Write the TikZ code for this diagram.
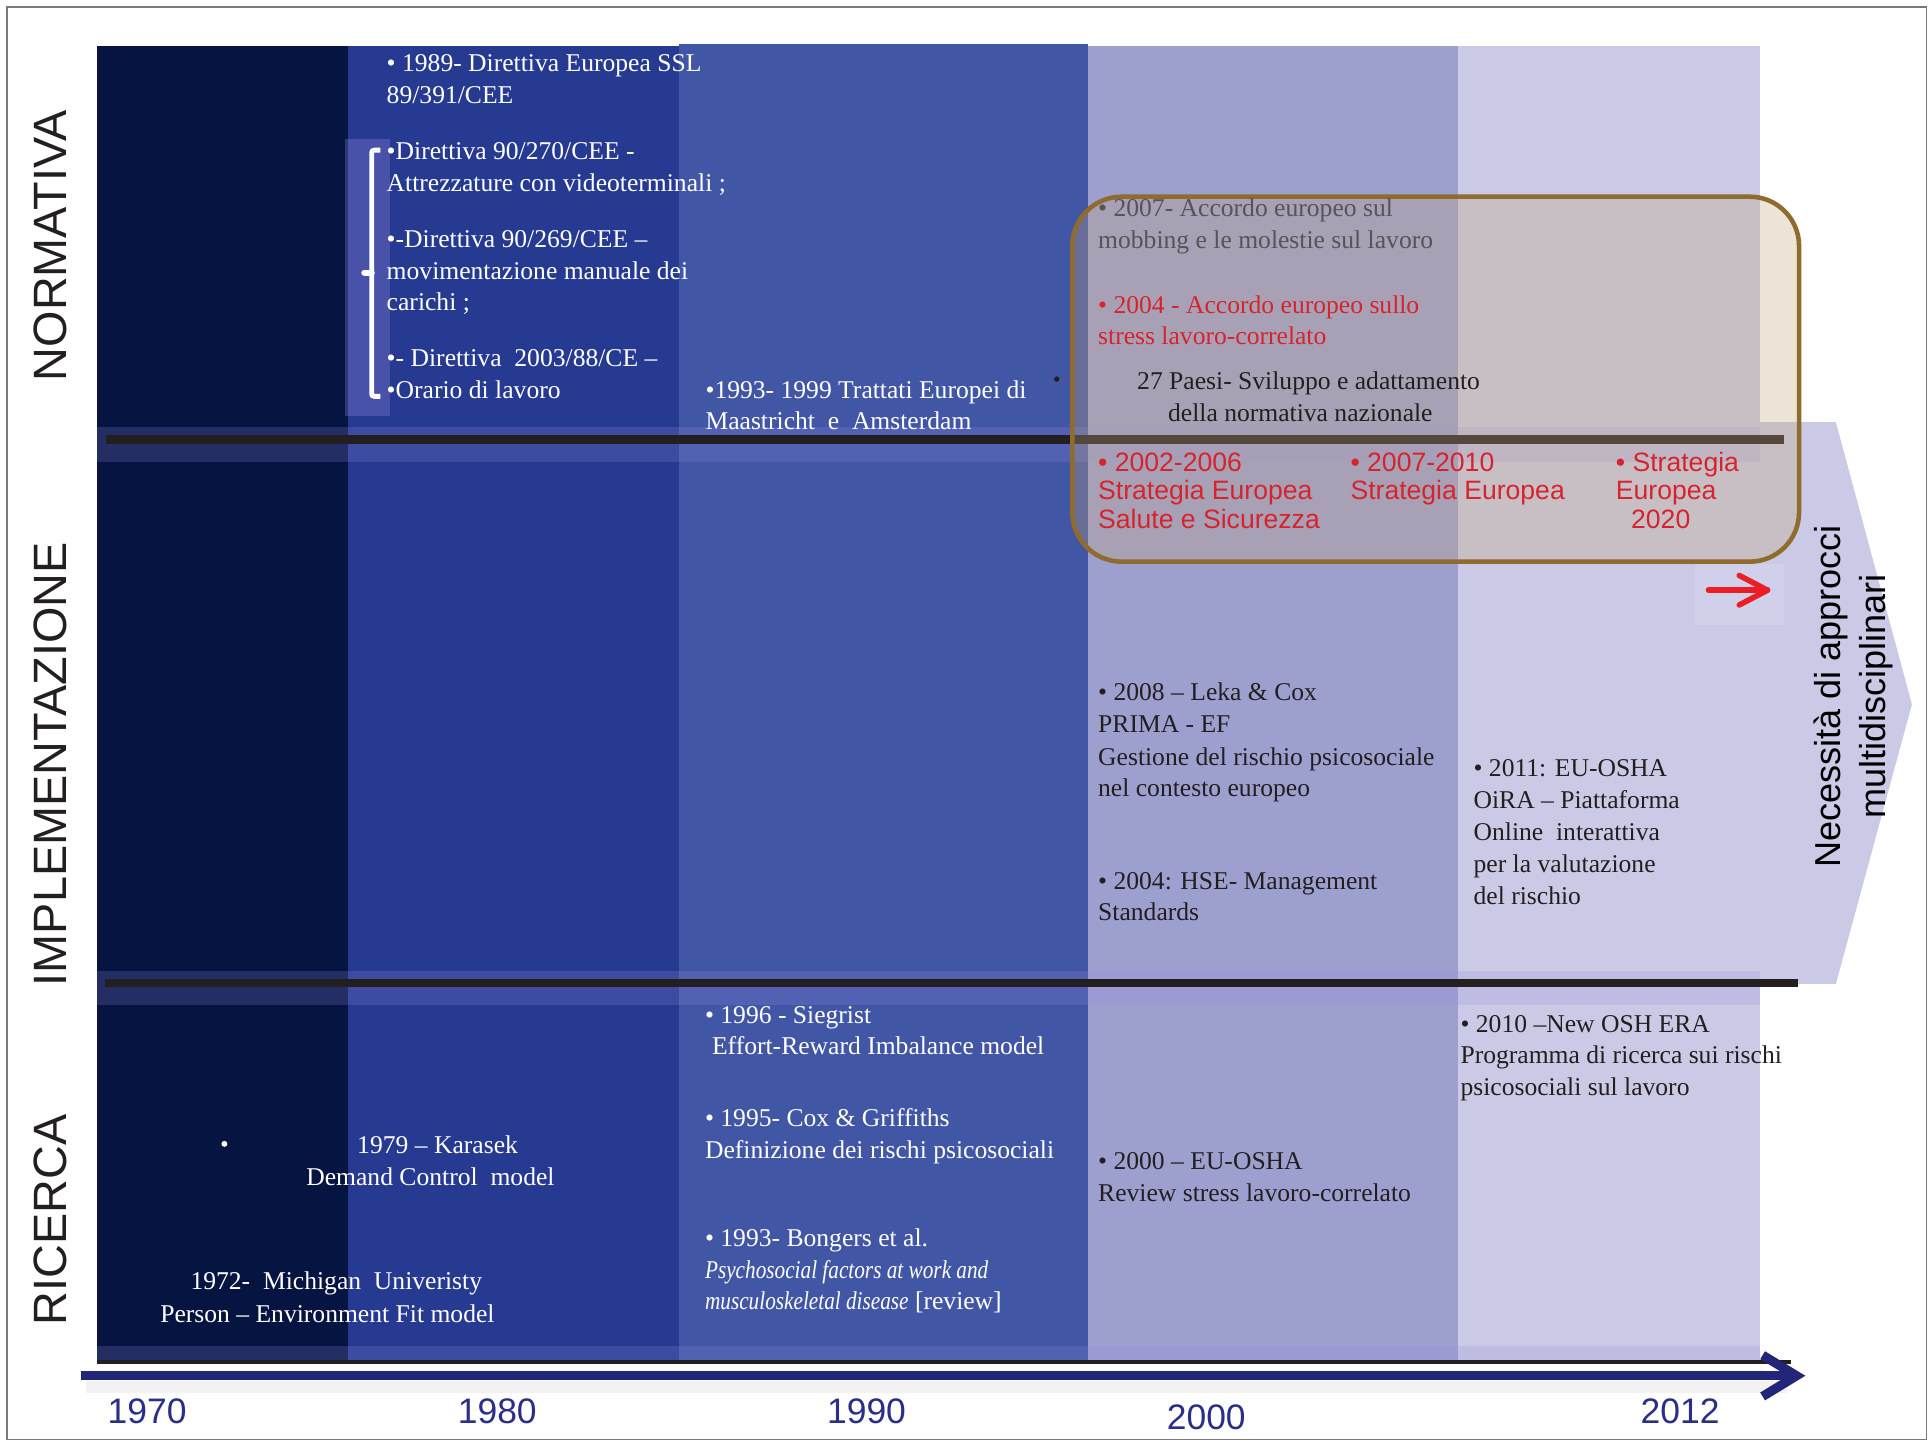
\documentclass[tikz,border=0pt]{standalone}
\usepackage{fontspec}
\setmainfont{Liberation Serif}
\newfontfamily\sansf{Liberation Sans}
\definecolor{cA}{RGB}{5,20,65}
\definecolor{cB}{RGB}{37,58,144}
\definecolor{cC}{RGB}{65,86,165}
\definecolor{cD}{RGB}{157,159,207}
\definecolor{cE}{RGB}{203,202,230}
\definecolor{bandc}{RGB}{150,140,225}
\definecolor{redt}{RGB}{215,35,45}
\definecolor{darkt}{RGB}{35,31,32}
\definecolor{greyt}{RGB}{88,82,90}
\definecolor{navyarrow}{RGB}{34,38,120}
\definecolor{yearc}{RGB}{42,46,135}
\definecolor{boxborder}{RGB}{143,108,45}
\definecolor{boxfill}{RGB}{195,168,122}
\definecolor{framec}{RGB}{120,120,120}
\definecolor{arrowbg}{RGB}{209,208,234}
\definecolor{redarrowc}{RGB}{235,30,40}
\newcommand{\narrowit}[1]{\scalebox{0.83}[1]{\itshape #1}}
\begin{document}
\begin{tikzpicture}[x=1pt,y=-1pt,
  tx/.style={inner sep=0pt, anchor=base west, font=\fontsize{20.8}{26}\selectfont},
  wt/.style={tx, text=white},
  dt/.style={tx, text=darkt},
  gt/.style={tx, text=greyt},
  rt/.style={tx, text=redt},
  wc/.style={tx, anchor=base, text=white},
  rs/.style={inner sep=0pt, anchor=base west, text=redt, font=\sansf\fontsize{21.6}{23}\selectfont},
  vt/.style={inner sep=0pt, anchor=base, rotate=90, text=black, font=\sansf\fontsize{29.3}{35}\selectfont},
  lbl/.style={inner sep=0pt, anchor=base, rotate=90, text=darkt, font=\sansf\fontsize{38}{40}\selectfont},
  yr/.style={inner sep=0pt, anchor=base, text=yearc, font=\sansf\fontsize{28.8}{30}\selectfont},
  band/.style={fill=bandc, fill opacity=0.22},
  sepline/.style={draw=darkt, line cap=butt},
  tline/.style={draw=navyarrow, line width=7.5pt},
  redarr/.style={draw=redarrowc, line width=4.5pt, line cap=round, line join=round}
]
\useasboundingbox (0,0) rectangle (1568,1171);
\fill[white] (0,0) rectangle (1568,1171);
\draw[framec, line width=1.2pt] (5.5,5.5) rectangle (1565,1169.5);

% columns
\fill[cA] (78.7,37.4) rectangle (282.7,1106);
\fill[cB] (282.7,37.4) rectangle (551.3,1106);
\fill[cC] (551.3,35.7) rectangle (884,1106);
\fill[cD] (884,37.4) rectangle (1184.5,1106);
\fill[cE] (1184.5,37.4) rectangle (1429.5,1106);
% chevron
\fill[cE] (1429,342.9) -- (1491.5,342.9) -- (1553.3,572.3) -- (1491.5,799.4) -- (1429,799.4) -- cycle;

% translucent bands
\fill[band] (78.7,346.6) rectangle (1429.5,375);
\fill[band] (78.7,788.7) rectangle (1429.5,816.5);
\fill[band] (78.7,1093.5) rectangle (1429.5,1106);

% bracket
\fill[bandc, fill opacity=0.3] (280,113) rectangle (317,338);
\draw[white, line width=4pt, rounded corners=2pt] (309,122) -- (302,122) -- (302,322) -- (309,322);
\draw[white, line width=5pt, line cap=round] (296,221.5) -- (302,221.5);

% separator lines
\coordinate (l1a) at (86,357);
\coordinate (l1b) at (1449,357);
\coordinate (l2a) at (85.5,799);
\coordinate (l2b) at (1461,799);
\coordinate (l3a) at (79,1106.5);
\coordinate (l3b) at (1455,1106.5);
\draw[sepline, line width=7pt] (l1a) -- (l1b);
\draw[sepline, line width=6.5pt] (l2a) -- (l2b);
\draw[sepline, line width=2.5pt] (l3a) -- (l3b);

% NORMATIVA texts
\node[wt] (n89a) at (314,58) {• 1989- Direttiva Europea SSL};
\node[wt] (n89b) at (314,84) {89/391/CEE};
\node[wt] (n90a) at (314,129.5) {•Direttiva 90/270/CEE -};
\node[wt] (n90b) at (314,155.5) {Attrezzature con videoterminali ;};
\node[wt] (n69a) at (314,201) {•-Direttiva 90/269/CEE –};
\node[wt] (n69b) at (314,227) {movimentazione manuale dei};
\node[wt] (n69c) at (314,252.5) {carichi ;};
\node[wt] (n03a) at (314,298) {•- Direttiva~ 2003/88/CE –};
\node[wt] (n03b) at (314,324) {•Orario di lavoro};
\node[wt] (n93a) at (573,323.5) {•1993- 1999 Trattati Europei di};
\node[wt] (n93b) at (573,349.3) {Maastricht~ e~ Amsterdam};
\fill[darkt] (858.5,308) circle (2.2pt);

% highlight box
\draw[boxborder, line width=3.7pt, fill=boxfill, fill opacity=0.3, rounded corners=40pt] (871.2,159.8) rectangle (1461.6,456.3);
\node[gt] (n07a) at (892,176) {• 2007- Accordo europeo sul};
\node[gt] (n07b) at (892,201.7) {mobbing e le molestie sul lavoro};
\node[rt] (n04a) at (892,254.5) {• 2004 - Accordo europeo sullo};
\node[rt] (n04b) at (892,280.2) {stress lavoro-correlato};
\node[dt] (n27a) at (923.7,316.8) {27 Paesi- Sviluppo e adattamento};
\node[dt] (n27b) at (948.8,342.5) {della normativa nazionale};
\node[rs] (s1a) at (892,383) {• 2002-2006};
\node[rs] (s1b) at (892,406) {Strategia Europea};
\node[rs] (s1c) at (892,429) {Salute e Sicurezza};
\node[rs] (s2a) at (1097,383) {• 2007-2010};
\node[rs] (s2b) at (1097,406) {Strategia Europea};
\node[rs] (s3a) at (1312.6,383) {• Strategia};
\node[rs] (s3b) at (1312.6,406) {Europea};
\node[rs] (s3c) at (1325,429) {2020};

% red arrow
\fill[arrowbg] (1377,458) rectangle (1449,507.6);
\coordinate (ra0) at (1388,479.5);
\coordinate (ra1) at (1436,479.5);
\coordinate (rah1) at (1413,467.5);
\coordinate (rah2) at (1413,491.5);
\draw[redarr] (ra0) -- (ra1);
\draw[redarr] (rah1) -- (ra1) -- (rah2);

% IMPLEMENTAZIONE texts
\node[dt] (i08a) at (892,569.2) {• 2008 – Leka \& Cox};
\node[dt] (i08b) at (892,595.2) {PRIMA - EF};
\node[dt] (i08c) at (892,621.5) {Gestione del rischio psicosociale};
\node[dt] (i08d) at (892,647.2) {nel contesto europeo};
\node[dt] (i04a) at (892,722.5) {• 2004: HSE- Management};
\node[dt] (i04b) at (892,748.2) {Standards};
\node[dt] (i11a) at (1197,631) {• 2011: EU-OSHA};
\node[dt] (i11b) at (1197,657) {OiRA – Piattaforma};
\node[dt] (i11c) at (1197,683) {Online~ interattiva};
\node[dt] (i11d) at (1197,709) {per la valutazione};
\node[dt] (i11e) at (1197,735) {del rischio};

% chevron text
\node[vt] (nec1) at (1495.6,565.7) {Necessità di approcci};
\node[vt] (nec2) at (1532,565.7) {multidisciplinari};

% RICERCA texts
\node[wt] (r96a) at (572.6,831.3) {• 1996 - Siegrist};
\node[wt] (r96b) at (578.3,857) {Effort-Reward Imbalance model};
\node[wt] (r95a) at (572.6,915.2) {• 1995- Cox \& Griffiths};
\node[wt] (r95b) at (572.6,941) {Definizione dei rischi psicosociali};
\node[wt] (r93a) at (572.6,1012.7) {• 1993- Bongers et al.};
\node[wt] (r93b) at (572.6,1038.4) {\narrowit{Psychosocial factors at work and}};
\node[wt] (r93c) at (572.6,1064.2) {\narrowit{musculoskeletal disease} [review]};
\node[dt] (r00a) at (892,950.4) {• 2000 – EU-OSHA};
\node[dt] (r00b) at (892,976.1) {Review stress lavoro-correlato};
\node[dt] (r10a) at (1186.4,839) {• 2010 –New OSH ERA};
\node[dt] (r10b) at (1186.4,864.4) {Programma di ricerca sui rischi};
\node[dt] (r10c) at (1186.4,890.4) {psicosociali sul lavoro};
\fill[white] (182.3,929.3) circle (2.4pt);
\node[wc] (r79a) at (355.5,937) {1979 – Karasek};
\node[wc] (r79b) at (349.7,963) {Demand Control~ model};
\node[wc] (r72a) at (273.2,1048) {1972-~ Michigan~ Univeristy};
\node[wc] (r72b) at (266,1074.5) {Person – Environment Fit model};

% section labels
\node[lbl] (lN) at (54,199.4) {NORMATIVA};
\node[lbl] (lI) at (54,621) {IMPLEMENTAZIONE};
\node[lbl] (lR) at (54,991) {RICERCA};

% timeline
\draw[line width=10pt, black, opacity=0.05] (70,1127) -- (1452,1127);
\coordinate (ta0) at (66,1117.7);
\coordinate (ta1) at (1456,1117.7);
\coordinate (th1) at (1432,1101);
\coordinate (tht) at (1459.5,1117.7);
\coordinate (th2) at (1432,1134.5);
\draw[tline] (ta0) -- (ta1);
\draw[tline, line join=miter] (th1) -- (tht) -- (th2);

\node[yr] (y70) at (119.5,1156.8) {1970};
\node[yr] (y80) at (404,1156.8) {1980};
\node[yr] (y90) at (704,1156.8) {1990};
\node[yr] (y00) at (980,1161) {2000};
\node[yr] (y12) at (1365,1156.8) {2012};
\end{tikzpicture}
\end{document}
